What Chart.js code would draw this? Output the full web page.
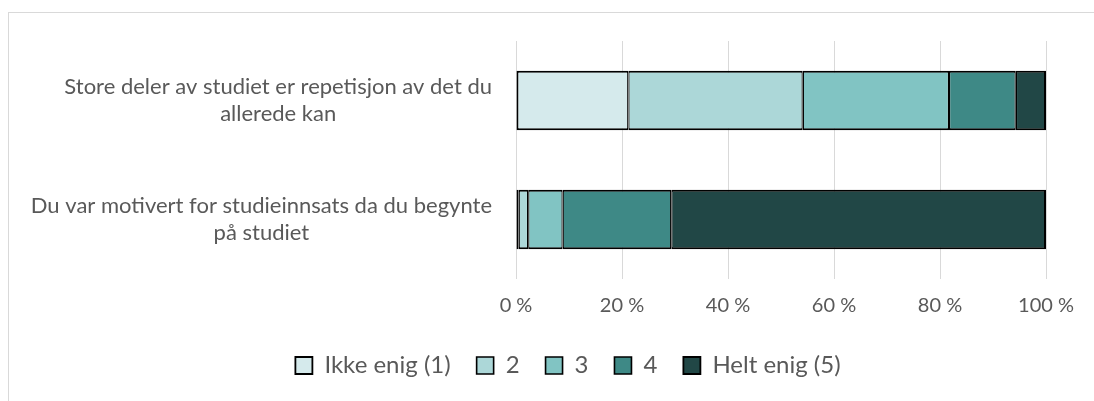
<!DOCTYPE html>
<html>
<head>
<meta charset="utf-8">
<script src="https://cdn.jsdelivr.net/npm/chart.js@4.4.1/dist/chart.umd.min.js"></script>
<style>
  html, body { margin: 0; padding: 0; background: #fff; overflow: hidden; }
  #wrap { position: relative; width: 1094px; height: 401px; }
  #frame { position: absolute; left: 8px; top: 12px; width: 1100px; height: 400px; border: 1px solid #d9d9d9; box-sizing: border-box; }
  #chart { position: absolute; left: 0; top: 0; }
</style>
</head>
<body>
<div id="wrap">
  <div id="frame"></div>
  <canvas id="chart" width="1094" height="401"></canvas>
</div>
<script>
const categories = [
  ["Store deler av studiet er repetisjon av det du", "allerede kan"],
  ["Du var motivert for studieinnsats da du begynte", "på studiet"],
];
const seriesNames = ["Ikke enig (1)", "2", "3", "4", "Helt enig (5)"];
const ikkeEnig = [21.2, 0.5];
const svar2 = [32.9, 1.8];
const svar3 = [27.6, 6.5];
const svar4 = [12.6, 20.5];
const heltEnig = [5.7, 70.7];
const tickValues = [0, 20, 40, 60, 80, 100];

const colors = ["#d5eaec", "#acd7d8", "#81c4c3", "#3e8986", "#214746"];
const textColor = "#595959";
const fontFamily = "Lato, 'Open Sans', sans-serif";

// kategoritekst tegnes selv: blokken høyrejustert, linjene sentrert (som i Excel)
const categoryLabels = {
  id: "categoryLabels",
  afterDraw(chart) {
    const { ctx, chartArea } = chart;
    const yScale = chart.scales.y;
    ctx.save();
    ctx.font = "22px " + fontFamily;
    ctx.fillStyle = textColor;
    ctx.textAlign = "center";
    ctx.textBaseline = "middle";
    const lineHeight = 27;
    categories.forEach((lines, i) => {
      const y = yScale.getPixelForValue(i);
      const maxW = Math.max(...lines.map((l) => ctx.measureText(l).width));
      const cx = chartArea.left - 24 - maxW / 2;
      lines.forEach((line, j) => {
        ctx.fillText(line, cx, y + (j - (lines.length - 1) / 2) * lineHeight);
      });
    });
    ctx.restore();
  },
};

// flytter legenden litt mot venstre midtpunkt som i originalen
const legendShift = {
  id: "legendShift",
  afterLayout(chart) {
    chart.legend.left += 45;
    chart.legend.right += 45;
  },
};

const allValues = [ikkeEnig, svar2, svar3, svar4, heltEnig];

const chart = new Chart(document.getElementById("chart"), {
  type: "bar",
  data: {
    labels: categories,
    datasets: allValues.map((values, i) => ({
      label: seriesNames[i],
      data: values,
      backgroundColor: colors[i],
      borderColor: "#000000",
      borderWidth: { top: 2, bottom: 2, left: i === 0 ? 2 : 1.25, right: i === 4 ? 2 : 1.25 },
      borderSkipped: false,
      categoryPercentage: 1,
      barPercentage: 0.5,
    })),
  },
  options: {
    indexAxis: "y",
    responsive: false,
    animation: false,
    layout: { padding: { top: 41, bottom: 13.5, left: 0, right: 48 } },
    plugins: {
      tooltip: { enabled: false },
      legend: {
        position: "bottom",
        labels: {
          color: textColor,
          font: { family: fontFamily, size: 24 },
          boxWidth: 17,
          boxHeight: 17,
          padding: 26,
        },
      },
    },
    scales: {
      x: {
        stacked: true,
        min: 0,
        max: 100,
        afterBuildTicks: (scale) => {
          scale.ticks = tickValues.map((v) => ({ value: v }));
        },
        afterFit: (scale) => {
          scale.height = 48.5;
        },
        grid: { color: "#d9d9d9", lineWidth: 1, drawTicks: false },
        border: { display: false },
        ticks: {
          color: textColor,
          font: { family: fontFamily, size: 20 },
          padding: 15,
          callback: (v) => v + " %",
        },
      },
      y: {
        stacked: true,
        grid: { display: false },
        border: { display: false },
        ticks: { display: false },
        afterFit: (scale) => {
          scale.width = 516;
        },
      },
    },
  },
  plugins: [categoryLabels, legendShift],
});
</script>
</body>
</html>
